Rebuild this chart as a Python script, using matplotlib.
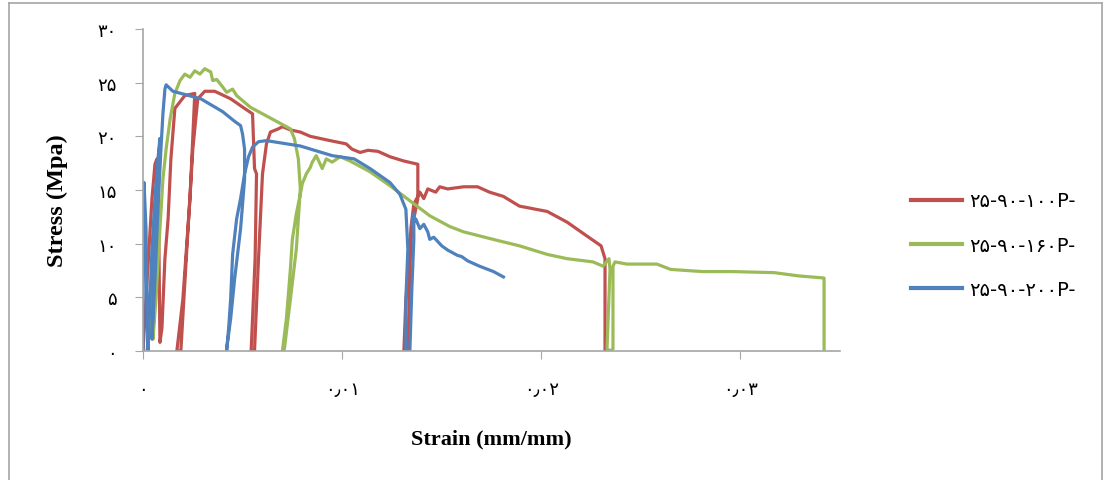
import matplotlib
matplotlib.use("Agg")
import matplotlib.pyplot as plt
from matplotlib.lines import Line2D

# Cyclic stress-strain curves (strain mm/mm, stress MPa)
strain_100 = [0, 0.00015, 0.0003, 0.00045, 0.0006, 0.0007, 0.0008, 0.00085, 0.00095, 0.0011,
              0.00126, 0.0014, 0.0016, 0.0021, 0.0026, 0.00236, 0.002, 0.0017, 0.0019, 0.0022,
              0.0025, 0.00275, 0.0031, 0.0036, 0.0044, 0.0051, 0.0055, 0.0056, 0.0057, 0.00563,
              0.00543, 0.0056, 0.0058, 0.006, 0.0062, 0.0064, 0.0068, 0.007, 0.0074, 0.0079,
              0.0084, 0.0089, 0.0094, 0.0102, 0.0105, 0.0109, 0.0113, 0.0118, 0.0124, 0.0131,
              0.0138, 0.0138, 0.0135, 0.0132, 0.0131, 0.0133, 0.0134, 0.01345, 0.0136, 0.0138,
              0.0139, 0.0141, 0.0143, 0.0147, 0.0149, 0.0153, 0.0161, 0.0168, 0.0174, 0.0181,
              0.0189, 0.0203, 0.0213, 0.0223, 0.023, 0.0231, 0.0232, 0.0232]
stress_100 = [0, 4.8, 9.5, 14.2, 17.4, 17.9, 9.5, 0.8, 2.1, 8.6,
              12.3, 17.9, 22.6, 23.8, 24.0, 14.2, 4.8, 0, 0, 9.5,
              18.8, 23.5, 24.2, 24.2, 23.5, 22.6, 22.1, 17.0, 16.5, 8.6,
              0, 0, 8.6, 16.5, 19.3, 20.4, 20.7, 20.9, 20.6, 20.4,
              20.0, 19.8, 19.6, 19.3, 18.8, 18.5, 18.7, 18.6, 18.1, 17.7,
              17.4, 14.2, 11.4, 4.8, 0, 0, 6.7, 11.4, 13.7, 14.4,
              14.8, 14.2, 15.1, 14.8, 15.3, 15.1, 15.3, 15.3, 14.8, 14.4,
              13.5, 13.0, 12.0, 10.7, 9.8, 9.2, 8.6, 0]

strain_160 = [0.0002, 0.00035, 0.0005, 0.00065, 0.00075, 0.0006, 0.0005, 0.00065, 0.00085, 0.001,
              0.00116, 0.00136, 0.0016, 0.00186, 0.0021, 0.00236, 0.0026, 0.00286, 0.0031, 0.0034,
              0.0035, 0.0037, 0.004, 0.0042, 0.0045, 0.0047, 0.0054, 0.0062, 0.0069, 0.0074,
              0.0076, 0.0078, 0.0079, 0.0077, 0.0074, 0.0071, 0.007, 0.0072, 0.0074, 0.0075,
              0.0077, 0.0079, 0.008, 0.0082, 0.0084, 0.0085, 0.0087, 0.0089, 0.009, 0.0092,
              0.0095, 0.0099, 0.0104, 0.0114, 0.0124, 0.0134, 0.0144, 0.0154, 0.0161, 0.0178,
              0.0189, 0.0203, 0.0213, 0.0226, 0.0231, 0.0234, 0.02345, 0.0233, 0.02347, 0.0236,
              0.0236, 0.0237, 0.0243, 0.0258, 0.0265, 0.0281, 0.0296, 0.0317, 0.0329, 0.0342,
              0.0342]
stress_160 = [0, 3.0, 7.6, 11.4, 13.7, 6.7, 1.1, 4.8, 11.4, 16.0,
              18.8, 21.6, 24.0, 25.2, 25.8, 25.5, 26.1, 25.8, 26.3, 26.0,
              25.2, 25.3, 24.6, 24.1, 24.4, 23.8, 22.7, 21.9, 21.2, 20.7,
              19.8, 17.9, 15.1, 9.5, 4.8, 0.2, 0, 3.0, 7.6, 10.4,
              12.8, 14.6, 15.6, 16.5, 17.1, 17.6, 18.2, 17.4, 17.0, 17.9,
              17.6, 18.1, 17.7, 16.7, 15.4, 14.0, 12.6, 11.6, 11.1, 10.3,
              9.8, 9.0, 8.6, 8.3, 7.9, 8.6, 7.6, 0.2, 0, 0.2,
              7.9, 8.3, 8.1, 8.1, 7.6, 7.4, 7.4, 7.3, 7.0, 6.8,
              0]

strain_200 = [0, 0, 0.00005, 0.00005, 0.00015, 0.0002, 0.00025, 0.00035, 0.00045, 0.0006,
              0.00075, 0.00085, 0.0007, 0.00055, 0.00045, 0.0006, 0.00075, 0.0009, 0.001, 0.0011,
              0.00116, 0.0015, 0.0029, 0.004, 0.0046, 0.0049, 0.005, 0.0051, 0.0051, 0.0049,
              0.0046, 0.0044, 0.0042, 0.0042, 0.0043, 0.0044, 0.0045, 0.0047, 0.0049, 0.0051,
              0.0053, 0.0055, 0.0058, 0.0062, 0.0079, 0.0095, 0.0106, 0.0114, 0.0124, 0.0129,
              0.0132, 0.0133, 0.0132, 0.0132, 0.0133, 0.0134, 0.0135, 0.0136, 0.0136, 0.0135,
              0.0137, 0.0139, 0.0141, 0.0143, 0.0144, 0.0146, 0.0148, 0.015, 0.0153, 0.0155,
              0.0158, 0.016, 0.0163, 0.0169, 0.0176, 0.0181]
stress_200 = [0, 4.8, 10.4, 15.7, 11.4, 4.8, 0, 4.8, 9.5, 14.2,
              17.9, 19.8, 14.2, 6.7, 1.1, 6.7, 13.2, 18.8, 22.1, 24.4,
              24.8, 24.2, 23.5, 22.3, 21.4, 21.0, 20.2, 18.8, 16.0, 11.4,
              6.7, 3.0, 0.2, 0, 2.1, 4.8, 9.0, 12.3, 14.2, 16.5,
              18.1, 19.0, 19.5, 19.6, 19.1, 18.2, 17.9, 17.0, 15.7, 14.6,
              13.2, 9.5, 4.8, 0.2, 0, 0, 5.8, 10.4, 12.8, 11.8,
              12.3, 11.4, 11.8, 11.1, 10.4, 10.6, 10.2, 9.8, 9.4, 9.2,
              8.9, 8.8, 8.4, 7.9, 7.4, 6.9]

labels = ["۲۵-۹۰-۱۰۰P-", "۲۵-۹۰-۱۶۰P-", "۲۵-۹۰-۲۰۰P-"]
colors = ["#c0504d", "#9bbb59", "#4f81bd"]

y_ticks = [0, 5, 10, 15, 20, 25, 30]
y_tick_labels = ["۰", "۵", "۱۰", "۱۵", "۲۰", "۲۵", "۳۰"]
x_ticks = [0, 0.01, 0.02, 0.03]
x_tick_labels = ["۰", "۰٫۰۱", "۰٫۰۲", "۰٫۰۳"]

fig = plt.figure(figsize=(11.06, 4.81), dpi=100)
ax = fig.add_axes([0.1293, 0.2682, 0.6302, 0.6694])

series = [(strain_100, stress_100), (strain_160, stress_160), (strain_200, stress_200)]
for (sx, sy), c, lab in zip(series, colors, labels):
    ax.plot(sx, sy, color=c, lw=2.3, label=lab, solid_joinstyle="round")

ax.set_xlim(0, 0.035)
ax.set_ylim(0, 30)
ax.set_xticks(x_ticks)
ax.set_xticklabels(x_tick_labels, fontfamily="DejaVu Sans", fontsize=13)
ax.set_yticks(y_ticks)
ax.set_yticklabels(y_tick_labels, fontfamily="DejaVu Sans", fontsize=13)
ax.tick_params(axis="x", direction="out", length=6, color="#a6a6a6", pad=15)
ax.tick_params(axis="y", direction="out", length=6, color="#a6a6a6", pad=13)

for s in ["top", "right"]:
    ax.spines[s].set_visible(False)
for s in ["left", "bottom"]:
    ax.spines[s].set_color("#a6a6a6")
    ax.spines[s].set_linewidth(1.2)

ax.set_xlabel("Strain (mm/mm)", fontfamily="Liberation Serif", fontweight="bold", fontsize=16)
ax.set_ylabel("Stress (Mpa)", fontfamily="Liberation Serif", fontweight="bold", fontsize=17.5)
ax.xaxis.set_label_coords(0.5, -0.24)
ax.yaxis.set_label_coords(-0.108, 0.47)

handles = [Line2D([], [], color=c, lw=3) for c in colors]
fig.legend(handles, labels, loc="center left", bbox_to_anchor=(0.808, 0.488),
           frameon=False, prop={"family": "DejaVu Sans", "size": 14},
           handlelength=2.6, handletextpad=0.4, labelspacing=1.3)

# light grey frame around the chart area
fig.add_artist(Line2D([0.008, 0.008], [0, 0.992], color="#a6a6a6", lw=1.2, transform=fig.transFigure))
fig.add_artist(Line2D([0.008, 0.996], [0.992, 0.992], color="#a6a6a6", lw=1.2, transform=fig.transFigure))
fig.add_artist(Line2D([0.996, 0.996], [0, 0.992], color="#a6a6a6", lw=1.2, transform=fig.transFigure))

fig.savefig("out.png", dpi=100)
